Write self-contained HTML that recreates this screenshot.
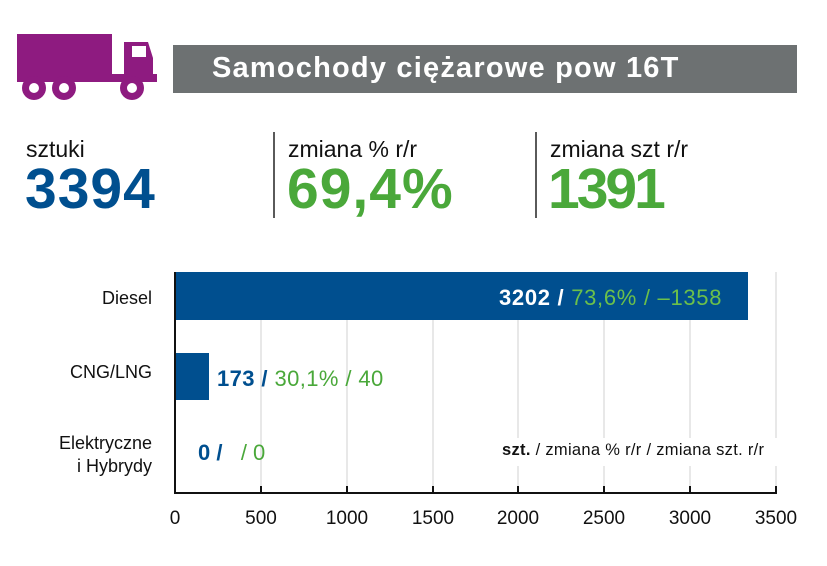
<!DOCTYPE html><html><head><style>
body{margin:0;width:827px;height:566px;background:#fff;font-family:"Liberation Sans",sans-serif;position:relative;overflow:hidden}
.a{position:absolute;white-space:nowrap}
</style></head><body>
<svg class="a" style="left:0;top:0" width="827" height="566">
<g fill="#8e1b80">
<rect x="17" y="34" width="95" height="44"/>
<rect x="17" y="74" width="140" height="8"/>
<path d="M124 42 H148 L153 58 V80 H124 Z"/>
<circle cx="34" cy="88" r="12"/><circle cx="64" cy="88" r="12"/><circle cx="132" cy="88" r="12"/>
</g>
<rect x="132" y="46" width="14" height="11" fill="#fff"/>
<g fill="#fff"><circle cx="34" cy="88" r="5"/><circle cx="64" cy="88" r="5"/><circle cx="132" cy="88" r="5"/></g>
<rect x="173" y="45" width="624" height="48" fill="#6d7172"/>
<line x1="274" y1="132" x2="274" y2="218" stroke="#222" stroke-width="1.5"/>
<line x1="536" y1="132" x2="536" y2="218" stroke="#222" stroke-width="1.5"/>
<g stroke="#d8d8d8" stroke-width="1.2">
<line x1="261" y1="272" x2="261" y2="493"/><line x1="347" y1="272" x2="347" y2="493"/><line x1="433" y1="272" x2="433" y2="493"/><line x1="518" y1="272" x2="518" y2="493"/><line x1="604" y1="272" x2="604" y2="493"/><line x1="690" y1="272" x2="690" y2="493"/><line x1="776" y1="272" x2="776" y2="493"/>
</g>
<rect x="498" y="438" width="290" height="28" fill="#fff"/>
<rect x="175" y="272" width="573" height="48" fill="#004f8f"/>
<rect x="175" y="353" width="34" height="47" fill="#004f8f"/>
<g stroke="#111" stroke-width="2">
<line x1="175" y1="272" x2="175" y2="494"/><line x1="174" y1="493" x2="777" y2="493"/>
<line x1="261" y1="486" x2="261" y2="493"/><line x1="347" y1="486" x2="347" y2="493"/><line x1="433" y1="486" x2="433" y2="493"/><line x1="518" y1="486" x2="518" y2="493"/><line x1="604" y1="486" x2="604" y2="493"/><line x1="690" y1="486" x2="690" y2="493"/><line x1="776" y1="486" x2="776" y2="493"/>
</g>
<g font-family="Liberation Sans" font-size="19" fill="#111" text-anchor="middle">
<text x="175" y="524">0</text><text x="261" y="524">500</text><text x="347" y="524">1000</text><text x="433" y="524">1500</text><text x="518" y="524">2000</text><text x="604" y="524">2500</text><text x="690" y="524">3000</text><text x="776" y="524">3500</text>
</g>
</svg>
<div class="a" style="left:212px;top:52px;font-size:29px;font-weight:bold;color:#fff;letter-spacing:1.2px">Samochody ciężarowe pow 16T</div>
<div class="a" style="left:26px;top:136px;font-size:23px;color:#111">sztuki</div>
<div class="a" style="left:25px;top:156px;font-size:57px;font-weight:bold;color:#004f8f;letter-spacing:1px">3394</div>
<div class="a" style="left:288px;top:136px;font-size:23px;color:#111">zmiana % r/r</div>
<div class="a" style="left:287px;top:156px;font-size:57px;font-weight:bold;color:#4aa83a;letter-spacing:1px">69,4%</div>
<div class="a" style="left:550px;top:136px;font-size:23px;color:#111">zmiana szt r/r</div>
<div class="a" style="left:548px;top:156px;font-size:57px;font-weight:bold;color:#4aa83a;letter-spacing:-3px">1391</div>
<div class="a" style="left:86px;top:288px;font-size:18px;color:#111;text-align:right;width:66px">Diesel</div>
<div class="a" style="left:50px;top:362px;font-size:18px;color:#111;text-align:right;width:102px">CNG/LNG</div>
<div class="a" style="left:20px;top:432px;font-size:18px;color:#111;text-align:right;width:132px;line-height:23px">Elektryczne<br>i Hybrydy</div>
<div class="a" style="left:499px;top:285px;font-size:22px;color:#fff;letter-spacing:0.7px"><b>3202 /</b> <span style="color:#6cc04a">73,6% / –1358</span></div>
<div class="a" style="left:217px;top:366px;font-size:22px;color:#004f8f;letter-spacing:0.4px"><b>173 /</b> <span style="color:#4aa83a">30,1% / 40</span></div>
<div class="a" style="left:198px;top:440px;font-size:22px;color:#004f8f"><b>0 /</b> &nbsp;&nbsp;<span style="color:#4aa83a">/ 0</span></div>
<div class="a" style="left:502px;top:441px;font-size:16.5px;color:#111;letter-spacing:0.3px"><b>szt.</b> / zmiana % r/r / zmiana szt. r/r</div>
</body></html>
